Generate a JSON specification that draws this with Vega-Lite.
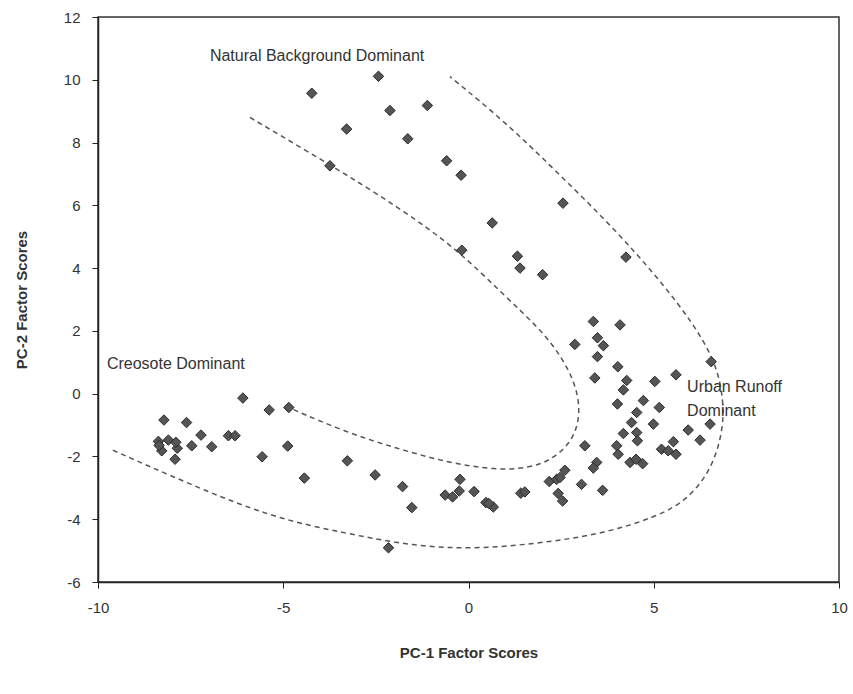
{
  "$schema": "https://vega.github.io/schema/vega-lite/v6.json",
  "width": 741,
  "height": 565,
  "autosize": {"type": "none"},
  "padding": {"left": 98, "top": 17, "right": 14, "bottom": 112},
  "background": "white",
  "config": {
    "view": {"stroke": "#333", "strokeWidth": 1.5},
    "font": "Liberation Sans"
  },
  "datasets": {
    "pts": [
      {"x": -2.43, "y": 10.11}, {"x": -4.23, "y": 9.57}, {"x": -1.11, "y": 9.18}, {"x": -2.12, "y": 9.02},
      {"x": -3.29, "y": 8.43}, {"x": -1.64, "y": 8.12}, {"x": -3.74, "y": 7.26}, {"x": -0.59, "y": 7.42},
      {"x": -0.2, "y": 6.96}, {"x": 0.64, "y": 5.44}, {"x": -0.18, "y": 4.57}, {"x": 1.32, "y": 4.38},
      {"x": 1.39, "y": 4.0}, {"x": 2.0, "y": 3.79}, {"x": 2.55, "y": 6.07}, {"x": 4.25, "y": 4.35},
      {"x": -6.09, "y": -0.14}, {"x": -5.38, "y": -0.52}, {"x": -4.85, "y": -0.44}, {"x": -8.22, "y": -0.84},
      {"x": -7.61, "y": -0.92}, {"x": -7.22, "y": -1.32}, {"x": -8.37, "y": -1.52}, {"x": -8.1, "y": -1.48},
      {"x": -8.28, "y": -1.82}, {"x": -7.86, "y": -1.74}, {"x": -7.47, "y": -1.66}, {"x": -7.9, "y": -1.55},
      {"x": -8.35, "y": -1.65}, {"x": -7.92, "y": -2.09}, {"x": -6.93, "y": -1.69}, {"x": -6.48, "y": -1.34},
      {"x": -6.3, "y": -1.34}, {"x": -5.57, "y": -2.01}, {"x": -4.88, "y": -1.67}, {"x": -4.43, "y": -2.69},
      {"x": -3.27, "y": -2.14},
      {"x": -2.52, "y": -2.59}, {"x": -1.78, "y": -2.96}, {"x": -1.53, "y": -3.63}, {"x": -2.16, "y": -4.91},
      {"x": -0.63, "y": -3.23}, {"x": -0.43, "y": -3.29}, {"x": -0.23, "y": -2.73}, {"x": -0.25, "y": -3.1},
      {"x": 0.15, "y": -3.12}, {"x": 0.47, "y": -3.47}, {"x": 0.67, "y": -3.61}, {"x": 0.55, "y": -3.5},
      {"x": 1.41, "y": -3.17}, {"x": 1.52, "y": -3.13}, {"x": 2.18, "y": -2.8}, {"x": 2.38, "y": -2.73},
      {"x": 2.42, "y": -3.18}, {"x": 2.54, "y": -3.42},
      {"x": 3.37, "y": 2.3}, {"x": 4.09, "y": 2.19}, {"x": 2.87, "y": 1.57}, {"x": 3.48, "y": 1.78},
      {"x": 3.64, "y": 1.53}, {"x": 3.48, "y": 1.18}, {"x": 4.03, "y": 0.86}, {"x": 6.55, "y": 1.02},
      {"x": 5.6, "y": 0.6}, {"x": 5.03, "y": 0.39}, {"x": 3.41, "y": 0.5}, {"x": 4.27, "y": 0.42},
      {"x": 4.18, "y": 0.12}, {"x": 4.02, "y": -0.33}, {"x": 4.72, "y": -0.22}, {"x": 5.15, "y": -0.44},
      {"x": 4.54, "y": -0.6}, {"x": 4.4, "y": -0.92}, {"x": 4.99, "y": -0.97}, {"x": 6.52, "y": -0.97},
      {"x": 4.18, "y": -1.27}, {"x": 4.54, "y": -1.24}, {"x": 4.56, "y": -1.5}, {"x": 5.93, "y": -1.16},
      {"x": 6.25, "y": -1.48}, {"x": 5.53, "y": -1.53}, {"x": 5.21, "y": -1.77}, {"x": 5.6, "y": -1.93},
      {"x": 5.39, "y": -1.82}, {"x": 4.0, "y": -1.66}, {"x": 4.04, "y": -1.93}, {"x": 4.36, "y": -2.19},
      {"x": 4.52, "y": -2.09}, {"x": 4.7, "y": -2.23}, {"x": 3.14, "y": -1.66}, {"x": 3.46, "y": -2.19},
      {"x": 3.37, "y": -2.37}, {"x": 2.6, "y": -2.44}, {"x": 2.47, "y": -2.67}, {"x": 3.05, "y": -2.89},
      {"x": 3.62, "y": -3.08}
    ],
    "curves": [
      {"curve": "inner", "seq": 1, "x": -5.9, "y": 8.8},
      {"curve": "inner", "seq": 2, "x": -3.74, "y": 7.3},
      {"curve": "inner", "seq": 3, "x": -1.9, "y": 5.95},
      {"curve": "inner", "seq": 4, "x": -0.3, "y": 4.6},
      {"curve": "inner", "seq": 5, "x": 0.9, "y": 3.2},
      {"curve": "inner", "seq": 6, "x": 1.93, "y": 2.07},
      {"curve": "inner", "seq": 7, "x": 2.56, "y": 1.11},
      {"curve": "inner", "seq": 8, "x": 2.96, "y": 0.1},
      {"curve": "inner", "seq": 9, "x": 3.01, "y": -0.86},
      {"curve": "inner", "seq": 10, "x": 2.74, "y": -1.61},
      {"curve": "inner", "seq": 11, "x": 2.2, "y": -2.14},
      {"curve": "inner", "seq": 12, "x": 1.6, "y": -2.37},
      {"curve": "inner", "seq": 13, "x": 0.76, "y": -2.44},
      {"curve": "inner", "seq": 14, "x": -0.59, "y": -2.19},
      {"curve": "inner", "seq": 15, "x": -1.94, "y": -1.74},
      {"curve": "inner", "seq": 16, "x": -3.29, "y": -1.24},
      {"curve": "inner", "seq": 17, "x": -4.86, "y": -0.44},
      {"curve": "outer", "seq": 1, "x": -9.6, "y": -1.8},
      {"curve": "outer", "seq": 2, "x": -7.5, "y": -2.9},
      {"curve": "outer", "seq": 3, "x": -5.3, "y": -3.95},
      {"curve": "outer", "seq": 4, "x": -3.3, "y": -4.45},
      {"curve": "outer", "seq": 5, "x": -1.5, "y": -4.86},
      {"curve": "outer", "seq": 6, "x": 0.3, "y": -4.96},
      {"curve": "outer", "seq": 7, "x": 2.4, "y": -4.7},
      {"curve": "outer", "seq": 8, "x": 3.8, "y": -4.4},
      {"curve": "outer", "seq": 9, "x": 5.0, "y": -3.95},
      {"curve": "outer", "seq": 10, "x": 5.9, "y": -3.42},
      {"curve": "outer", "seq": 11, "x": 6.6, "y": -2.35},
      {"curve": "outer", "seq": 12, "x": 6.88, "y": -1.08},
      {"curve": "outer", "seq": 13, "x": 6.88, "y": -0.22},
      {"curve": "outer", "seq": 14, "x": 6.7, "y": 0.95},
      {"curve": "outer", "seq": 15, "x": 6.07, "y": 2.23},
      {"curve": "outer", "seq": 16, "x": 5.17, "y": 3.61},
      {"curve": "outer", "seq": 17, "x": 3.9, "y": 5.3},
      {"curve": "outer", "seq": 18, "x": 2.42, "y": 7.02},
      {"curve": "outer", "seq": 19, "x": 1.0, "y": 8.65},
      {"curve": "outer", "seq": 20, "x": -0.5, "y": 10.1}
    ],
    "labels": [
      {"x": -6.98, "y": 10.75, "label": "Natural Background Dominant"},
      {"x": -9.76, "y": 0.96, "label": "Creosote Dominant"},
      {"x": 5.9, "y": 0.2, "label": "Urban Runoff"},
      {"x": 5.9, "y": -0.54, "label": "Dominant"}
    ]
  },
  "encoding": {
    "x": {
      "field": "x", "type": "quantitative",
      "scale": {"domain": [-10, 10], "nice": false},
      "axis": {
        "title": "PC-1 Factor Scores", "values": [-10, -5, 0, 5, 10], "grid": false,
        "labelFlush": false, "labelExpr": "toString(datum.value)",
        "domainColor": "#222", "domainWidth": 1.5, "tickColor": "#222", "tickSize": 6,
        "labelFont": "Liberation Sans", "labelFontSize": 15, "labelColor": "#333", "labelPadding": 12,
        "titleFont": "Liberation Sans", "titleFontSize": 15, "titleFontWeight": "bold", "titleColor": "#333", "titlePadding": 30
      }
    },
    "y": {
      "field": "y", "type": "quantitative",
      "scale": {"domain": [-6, 12], "nice": false},
      "axis": {
        "title": "PC-2 Factor Scores", "values": [-6, -4, -2, 0, 2, 4, 6, 8, 10, 12], "grid": false,
        "labelFlush": false, "labelExpr": "toString(datum.value)",
        "domainColor": "#222", "domainWidth": 1.5, "tickColor": "#222", "tickSize": 6,
        "labelFont": "Liberation Sans", "labelFontSize": 15, "labelColor": "#333", "labelPadding": 12,
        "titleFont": "Liberation Sans", "titleFontSize": 15, "titleFontWeight": "bold", "titleColor": "#333", "titlePadding": 34
      }
    }
  },
  "layer": [
    {
      "data": {"name": "curves"},
      "mark": {"type": "line", "interpolate": "basis", "stroke": "#555", "strokeWidth": 1.5, "strokeDash": [5, 4]},
      "encoding": {
        "detail": {"field": "curve", "type": "nominal"},
        "order": {"field": "seq", "type": "quantitative"}
      }
    },
    {
      "data": {"name": "pts"},
      "mark": {"type": "point", "shape": "diamond", "filled": true, "size": 110, "fill": "#555", "stroke": "#2a2a2a", "strokeWidth": 1, "opacity": 1}
    },
    {
      "data": {"name": "labels"},
      "mark": {"type": "text", "align": "left", "baseline": "middle", "font": "Liberation Sans", "fontSize": 16, "color": "#333"},
      "encoding": {"text": {"field": "label", "type": "nominal"}}
    }
  ]
}
